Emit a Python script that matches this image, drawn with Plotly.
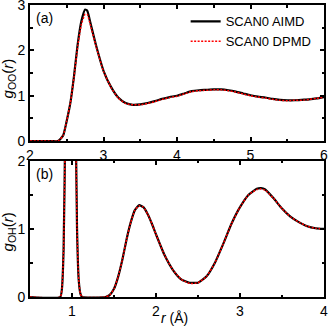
import plotly.graph_objects as go
from plotly.subplots import make_subplots

# g_OO(r), panel (a)
r_oo = [2.0, 2.3, 2.38, 2.45, 2.5, 2.55, 2.6, 2.65, 2.7, 2.75, 2.78, 2.82, 2.9, 3.0, 3.1, 3.2,
        3.3, 3.4, 3.5, 3.6, 3.7, 3.8, 3.9, 4.0, 4.1, 4.2, 4.3, 4.4, 4.5, 4.6, 4.7, 4.8, 4.9,
        5.0, 5.1, 5.2, 5.3, 5.4, 5.5, 5.6, 5.7, 5.8, 5.9, 6.0]
goo_aimd = [0, 0, 0.0, 0.12, 0.45, 0.85, 1.45, 2.15, 2.65, 2.9, 2.87, 2.62, 2.1, 1.55, 1.2, 0.96,
            0.84, 0.8, 0.81, 0.84, 0.88, 0.93, 0.97, 1.0, 1.05, 1.1, 1.12, 1.13, 1.14, 1.14,
            1.12, 1.09, 1.05, 1.01, 0.98, 0.96, 0.93, 0.91, 0.9, 0.9, 0.91, 0.92, 0.94, 0.97]
goo_dpmd = [0, 0, 0.0, 0.12, 0.45, 0.85, 1.43, 2.1, 2.58, 2.8, 2.79, 2.57, 2.08, 1.54, 1.19, 0.95,
            0.83, 0.8, 0.8, 0.83, 0.87, 0.92, 0.96, 0.99, 1.04, 1.09, 1.11, 1.12, 1.13, 1.13,
            1.11, 1.08, 1.04, 1.0, 0.97, 0.95, 0.92, 0.9, 0.89, 0.9, 0.9, 0.92, 0.94, 0.97]

# g_OH(r), panel (b)
r_oh = [0.5, 0.86, 0.88, 0.9, 0.92, 0.94, 0.96, 0.98, 1.0, 1.02, 1.04, 1.06, 1.08, 1.1, 1.12,
        1.4, 1.45, 1.5, 1.55, 1.6, 1.65, 1.7, 1.75, 1.8, 1.85, 1.9, 1.95, 2.0, 2.1, 2.2, 2.3,
        2.4, 2.5, 2.6, 2.7, 2.8, 2.9, 3.0, 3.1, 3.2, 3.25, 3.3, 3.4, 3.5, 3.6, 3.7, 3.8, 3.9, 4.0]
goh_aimd = [0, 0, 0.12, 0.7, 2.6, 7.3, 13, 16, 13.5, 8, 3.2, 1.0, 0.25, 0.05, 0,
            0, 0.03, 0.12, 0.3, 0.55, 0.85, 1.1, 1.28, 1.35, 1.32, 1.22, 1.08, 0.92, 0.62,
            0.4, 0.26, 0.21, 0.21, 0.3, 0.5, 0.78, 1.08, 1.32, 1.5, 1.59, 1.6, 1.58, 1.45,
            1.3, 1.18, 1.1, 1.04, 1.01, 1.0]
goh_dpmd = [0, 0, 0.12, 0.7, 2.6, 7.3, 13, 16, 13.5, 8, 3.2, 1.0, 0.25, 0.05, 0,
            0, 0.03, 0.12, 0.3, 0.55, 0.85, 1.1, 1.28, 1.34, 1.32, 1.22, 1.08, 0.92, 0.62,
            0.4, 0.26, 0.2, 0.21, 0.3, 0.5, 0.78, 1.08, 1.32, 1.5, 1.58, 1.59, 1.57, 1.45,
            1.3, 1.18, 1.1, 1.04, 1.01, 1.0]

fig = make_subplots(rows=2, cols=1, vertical_spacing=0.068)

black = dict(color="black", width=2.2, shape="spline", smoothing=0.5)
red = dict(color="red", width=1.5, dash="2px,1.5px", shape="spline", smoothing=0.5)

fig.add_trace(go.Scatter(x=r_oo, y=goo_aimd, mode="lines", name="SCAN0 AIMD", line=black), row=1, col=1)
fig.add_trace(go.Scatter(x=r_oo, y=goo_dpmd, mode="lines", name="SCAN0 DPMD", line=red), row=1, col=1)
fig.add_trace(go.Scatter(x=r_oh, y=goh_aimd, mode="lines", showlegend=False, line=black), row=2, col=1)
fig.add_trace(go.Scatter(x=r_oh, y=goh_dpmd, mode="lines", showlegend=False, line=red), row=2, col=1)

axis_style = dict(
    showline=True, linecolor="black", linewidth=2, mirror="allticks",
    ticks="inside", ticklen=4, tickwidth=1.5, tickcolor="black",
    showgrid=False, zeroline=False, automargin=False, ticklabeloverflow="allow",
    tickfont=dict(size=14, color="black"),
    minor=dict(ticks="inside", ticklen=2.5, tickwidth=1.5, tickcolor="black"),
)

fig.update_xaxes(**axis_style)
fig.update_yaxes(**axis_style)

fig.update_xaxes(range=[2, 6], dtick=1, minor_dtick=0.5, row=1, col=1)
fig.update_yaxes(range=[0, 3], dtick=1, minor_dtick=0.5, row=1, col=1)
fig.update_xaxes(range=[0.5, 4], dtick=1, minor_dtick=0.5, row=2, col=1)
fig.update_yaxes(range=[0, 2], dtick=1, minor_dtick=0.5, row=2, col=1)

# axis titles as annotations so they sit where the reference has them
fig.add_annotation(text="<i>g</i><sub>OO</sub>(<i>r</i>)", xref="paper", yref="paper",
                   x=-0.073, y=0.747, textangle=-90, xanchor="center", yanchor="middle",
                   showarrow=False, font=dict(size=15))
fig.add_annotation(text="<i>g</i><sub>OH</sub>(<i>r</i>)", xref="paper", yref="paper",
                   x=-0.073, y=0.223, textangle=-90, xanchor="center", yanchor="middle",
                   showarrow=False, font=dict(size=15))
fig.add_annotation(text="<i>r</i> (Å)", xref="paper", yref="paper", x=0.493, y=-0.072,
                   xanchor="center", yanchor="middle", showarrow=False, font=dict(size=14))
fig.add_annotation(text="(a)", xref="x domain", yref="y domain", x=0.015, y=0.98,
                   xanchor="left", yanchor="top", showarrow=False, font=dict(size=14))
fig.add_annotation(text="(b)", xref="x2 domain", yref="y2 domain", x=0.015, y=0.98,
                   xanchor="left", yanchor="top", showarrow=False, font=dict(size=14))

fig.update_layout(
    width=332, height=331,
    margin=dict(l=30, r=8, t=5, b=34),
    paper_bgcolor="white", plot_bgcolor="white",
    font=dict(family="Liberation Sans, Arial", color="black"),
    legend=dict(x=0.975, y=0.995, xanchor="right", yanchor="top", bgcolor="rgba(0,0,0,0)",
                font=dict(size=13), tracegroupgap=0, itemwidth=30),
)

# drop the page's default body margin so the figure sits at the window's corner
fig.write_html("out.html", config={"displayModeBar": False},
               post_script="document.body.style.margin='0';")
